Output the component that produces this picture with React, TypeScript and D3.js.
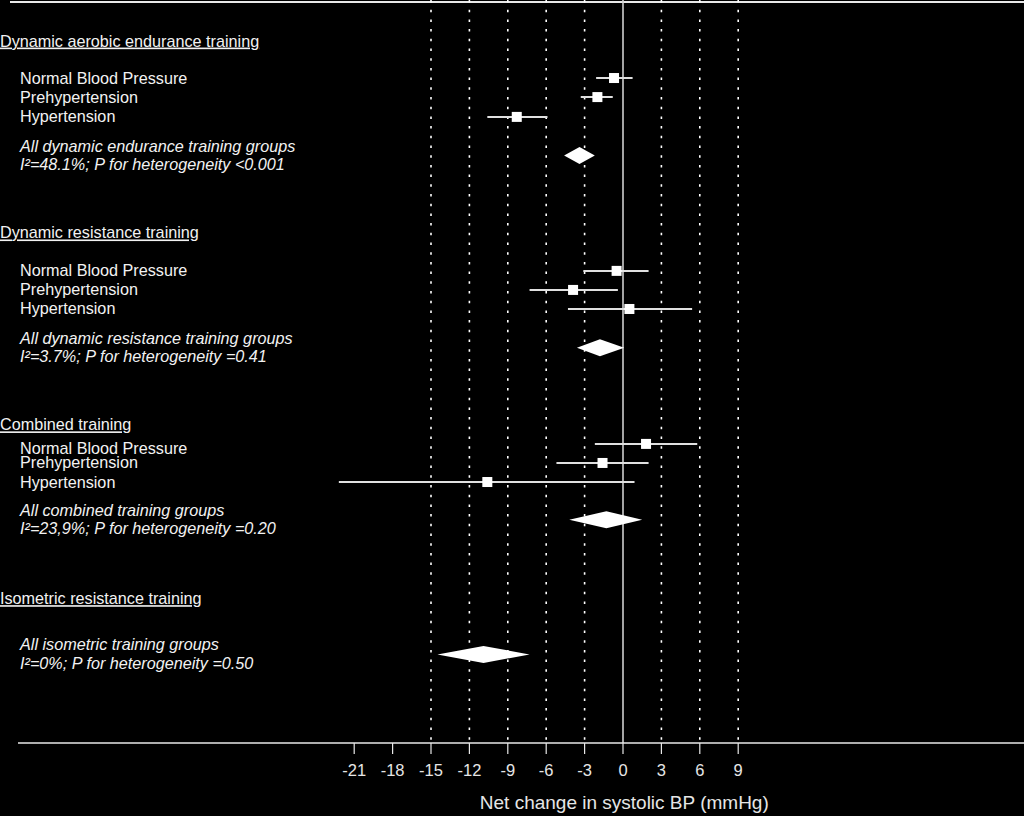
import React from "react";
import * as d3 from "d3";

// ---- Data ----
const xTicks = [-21, -18, -15, -12, -9, -6, -3, 0, 3, 6, 9];
const gridValues = [-15, -12, -9, -6, -3, 3, 6, 9];

const headers = [
  { label: "Dynamic aerobic endurance training", row: 2.03 },
  { label: "Dynamic resistance training", row: 12.0 },
  { label: "Combined training", row: 21.97 },
  { label: "Isometric resistance training", row: 31.0 },
];

// subgroups: estimate, lower, upper
const subgroupLabels = [
  "Normal Blood Pressure", "Prehypertension", "Hypertension",
  "Normal Blood Pressure", "Prehypertension", "Hypertension",
  "Normal Blood Pressure", "Prehypertension", "Hypertension",
];
const subgroupRows = [3.95, 4.94, 5.97, 13.97, 14.96, 15.95, 22.96, 23.95, 24.94];
const subgroupTextRows = [3.95, 4.94, 5.97, 13.97, 14.96, 15.95, 23.2, 23.95, 24.94];
const subgroupEst = [-0.7, -2.0, -8.3, -0.5, -3.9, 0.5, 1.8, -1.6, -10.6];
const subgroupLo = [-2.1, -3.3, -10.6, -3.1, -7.3, -4.3, -2.2, -5.2, -22.2];
const subgroupHi = [0.75, -0.8, -5.9, 2.0, -0.4, 5.4, 5.8, 2.0, 0.9];

// pooled estimates
const pooledLine1 = [
  "All dynamic endurance training groups",
  "All dynamic resistance training groups",
  "All combined training groups",
  "All isometric training groups",
];
const pooledLine2 = [
  "I²=48.1%; P for heterogeneity <0.001",
  "I²=3.7%; P for heterogeneity =0.41",
  "I²=23,9%; P for heterogeneity =0.20",
  "I²=0%; P for heterogeneity =0.50",
];
const pooledRows = [7.98, 17.97, 26.9, 33.9];
const pooledEst = [-3.4, -1.8, -1.3, -10.9];
const pooledLo = [-4.6, -3.6, -4.2, -14.5];
const pooledHi = [-2.2, 0.1, 1.5, -7.3];

const axisTitle = "Net change in systolic BP (mmHg)";

export default function App() {
  const W = 1024;
  const H = 816;
  const x = d3.scaleLinear().domain([0, 9]).range([623, 738.2]);
  const y = d3.scaleLinear().domain([0, 38.5]).range([2, 743]);
  const axisY = y(38.5);
  const font = "'Liberation Sans', Arial, sans-serif";
  const textColor = "#f2f2f2";
  const fs = 16.2;

  const diamondH = 8.5;
  const sq = 10;

  return (
    <svg
      width={W}
      height={H}
      style={{ position: "absolute", left: 0, top: 0, background: "#000" }}
      fontFamily={font}
    >
      <rect x={0} y={0} width={W} height={H} fill="#000" />
      {/* top border */}
      <line x1={10} x2={W} y1={2} y2={2} stroke="#e8e8e8" strokeWidth={2} />
      {/* grid lines */}
      {gridValues.map((v) => (
        <line
          key={"g" + v}
          x1={x(v)}
          x2={x(v)}
          y1={0}
          y2={axisY}
          stroke="#fff"
          strokeWidth={1.6}
          strokeDasharray="2.5,7.2"
        />
      ))}
      {/* zero line */}
      <line x1={x(0)} x2={x(0)} y1={0} y2={axisY} stroke="#cfcfcf" strokeWidth={1.6} />
      {/* axis */}
      <line x1={18} x2={W} y1={axisY} y2={axisY} stroke="#e8e8e8" strokeWidth={1.6} />
      {xTicks.map((t) => (
        <g key={"t" + t}>
          <line x1={x(t)} x2={x(t)} y1={axisY} y2={axisY + 11} stroke="#e8e8e8" strokeWidth={1.2} />
          <text
            x={x(t)}
            y={axisY + 33}
            fill="#e6e6e6"
            fontSize={16.5}
            textAnchor="middle"
          >
            {t}
          </text>
        </g>
      ))}
      <text x={x(0.1)} y={809} fill="#e6e6e6" fontSize={19} textAnchor="middle">
        {axisTitle}
      </text>

      {/* headers */}
      {headers.map((h) => (
        <text
          key={h.label}
          x={0}
          y={y(h.row) + 5.5}
          fill={textColor}
          fontSize={fs}
          textDecoration="underline"
        >
          {h.label}
        </text>
      ))}

      {/* subgroup labels and marks */}
      {subgroupLabels.map((lab, i) => (
        <g key={"s" + i}>
          <text x={20} y={y(subgroupTextRows[i]) + 5.5} fill={textColor} fontSize={fs}>
            {lab}
          </text>
          <line
            x1={x(subgroupLo[i])}
            x2={x(subgroupHi[i])}
            y1={y(subgroupRows[i])}
            y2={y(subgroupRows[i])}
            stroke="#e0e0e0"
            strokeWidth={2}
          />
          <rect
            x={x(subgroupEst[i]) - sq / 2}
            y={y(subgroupRows[i]) - sq / 2}
            width={sq}
            height={sq}
            fill="#fff"
          />
        </g>
      ))}

      {/* pooled */}
      {pooledLine1.map((l1, i) => {
        const cy = y(pooledRows[i]);
        const pts: [number, number][] = [
          [x(pooledLo[i]), cy],
          [x(pooledEst[i]), cy - diamondH],
          [x(pooledHi[i]), cy],
          [x(pooledEst[i]), cy + diamondH],
        ];
        return (
          <g key={"p" + i}>
            <text x={20} y={cy - 4} fill={textColor} fontSize={fs} fontStyle="italic">
              {l1}
            </text>
            <text x={20} y={cy + 14.5} fill={textColor} fontSize={fs} fontStyle="italic">
              {pooledLine2[i]}
            </text>
            <path d={d3.line()(pts)! + "Z"} fill="#fff" />
          </g>
        );
      })}
    </svg>
  );
}
